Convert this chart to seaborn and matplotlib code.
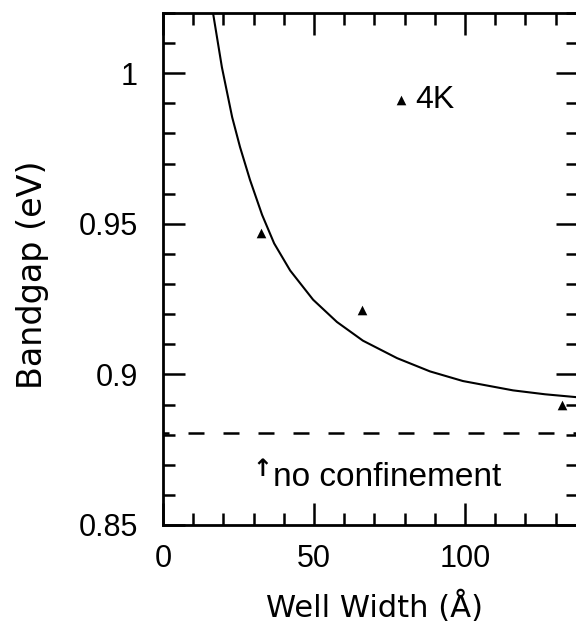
"""
Bandgap vs. well width, 4K measurements against the confinement curve.
"""
import numpy as np
import pandas as pd
import seaborn as sns
import matplotlib
matplotlib.use("Agg")
import matplotlib.pyplot as plt
from matplotlib.ticker import MultipleLocator, FixedLocator, FixedFormatter

# calculated confinement curve
curve_width = [16.4, 19.5, 22.9, 25.5, 28.8, 32.8, 36.8, 42.1, 49.7, 57.6,
               66.2, 77.5, 88.4, 99.3, 115.9, 126.5, 137.4]
curve_gap = [1.0210, 1.0020, 0.9854, 0.9755, 0.9646, 0.9530, 0.9435, 0.9345,
             0.9248, 0.9174, 0.9112, 0.9054, 0.9010, 0.8978, 0.8947, 0.8934,
             0.8924]

# measured 4K points
meas_width = [32.5, 65.9, 132.0]
meas_gap = [0.947, 0.9215, 0.890]

no_confinement_gap = 0.8805

y_ticks = [0.85, 0.9, 0.95, 1.0]
y_ticklabels = ["0.85", "0.9", "0.95", "1"]
x_ticks = [0, 50, 100]

TICK_FONT = ["Liberation Sans", "DejaVu Sans"]
LABEL_FONT = ["DejaVu Sans"]

sns.set_style("ticks")
plt.rcParams["font.family"] = TICK_FONT
plt.rcParams["text.color"] = "black"
plt.rcParams["axes.labelcolor"] = "black"

fig = plt.figure(figsize=(5.76, 6.29), dpi=100)
ax = fig.add_axes([163 / 576, 1 - 525 / 629, 415 / 576, 512 / 629])

curve_df = pd.DataFrame({"width": curve_width, "gap": curve_gap})
meas_df = pd.DataFrame({"width": meas_width, "gap": meas_gap})

sns.lineplot(data=curve_df, x="width", y="gap", color="black", lw=1.5,
             sort=False, ax=ax)
sns.scatterplot(data=meas_df, x="width", y="gap", marker="^", s=48,
                color="black", edgecolor="black", linewidth=0, label="4K", ax=ax)
ax.axhline(no_confinement_gap, color="black", lw=1.8, ls=(4, (6.4, 7.6)))

ax.set_xlim(0, 137.4)
ax.set_ylim(0.85, 1.02)

ax.xaxis.set_major_locator(FixedLocator(x_ticks))
ax.xaxis.set_minor_locator(MultipleLocator(10))
ax.yaxis.set_major_locator(FixedLocator(y_ticks))
ax.yaxis.set_major_formatter(FixedFormatter(y_ticklabels))
ax.yaxis.set_minor_locator(MultipleLocator(0.01))

ax.tick_params(which="both", direction="in", top=True, right=True,
               width=1.8, color="black", labelcolor="black", labelsize=22)
ax.tick_params(which="major", length=16)
ax.tick_params(which="minor", length=8.5)
ax.tick_params(axis="x", which="major", pad=14)
ax.tick_params(axis="y", which="major", pad=18)

for side in ["left", "right", "top", "bottom"]:
    ax.spines[side].set_visible(True)
    ax.spines[side].set_linewidth(2.0)
    ax.spines[side].set_color("black")

ax.set_xlabel("Well Width (Å)", fontsize=22, family=LABEL_FONT)
ax.set_ylabel("Bandgap (eV)", fontsize=24, family=LABEL_FONT)
ax.xaxis.label.set_va("center")
ax.yaxis.label.set_va("center")
ax.xaxis.set_label_coords((375 - 163) / 415, (525 - 607) / 512)
ax.yaxis.set_label_coords((33 - 163) / 415, (525 - 275) / 512)

ax.legend(frameon=False, loc="center left", bbox_to_anchor=(0.554, 0.83),
          borderpad=0, borderaxespad=0, handlelength=0.5, handletextpad=0.2,
          markerscale=1.0, prop={"family": TICK_FONT, "size": 23})

ax.text(32.9, 0.8685, "↑", fontsize=17, fontweight="bold", ha="center",
        va="center", family=["DejaVu Sans"])
ax.text(36.4, 0.863, "no confinement", fontsize=24, ha="left", va="baseline")

fig.savefig("out.png", dpi=100)
